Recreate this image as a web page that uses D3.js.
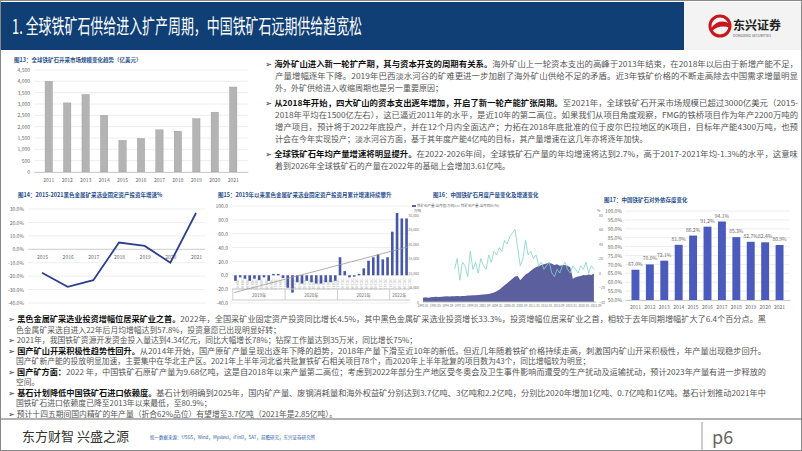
<!DOCTYPE html><html><head><meta charset="utf-8"><script src="https://cdn.jsdelivr.net/npm/d3@7"></script>
<style>body{margin:0;background:#fff}svg{display:block}text{font-family:"Noto Sans CJK SC","Noto Sans",sans-serif}</style></head><body>
<script>
const years13=["2011","2012","2013","2014","2015","2016","2017","2018","2019","2020","2021"];
const market13=[4000,3050,3420,2500,1400,1480,1860,1800,2350,2640,3750];
const years14=["2015","2016","2017","2018","2019","2020","2021"];
const growth14=[-17.5,-28,-23,5,2.5,-10,27];
const groups15=["2019年","2020年","2021年","2022年"];
const counts15=[11,11,11,4];
const vals15=[-8,-3,-5,-8,-5,-7,-3,-8,2,2,-4, -18,-25,-10,-12,-8,-10,-12,-12,-10,-10,-8, 26,6,-3,-2,2,10,21,26,30,23,26, 63,90,82,82];
const trend15=[-25,41];
const area16=[1500,1600,1500,1600,1700,1800,1700,1800,1900,2000,1900,2000,
2000,2100,2000,2100,2100,2200,2200,2300,2300,2400,2500,2600,2700,2800,
3000,3300,3700,4200,5000,5800,6500,7200,8000,8800,9000,7500,
8500,9500,10000,10800,11500,12000,12300,12800,13000,13300,13500,13200,12800,13000,12500,12700,
12800,12500,12000,8000,8500,8800,9000,9300,9200,9500,9300,9800];
const growth16=[5,20,-10,15,10,-5,30,5,15,0,20,10,5,25,15,30,25,35,30,45,40,50,55,60,35,10,20,45,25,30,20,25,10,15,5,10,15,0,-5,5,0,10,15,5,0,10,5,0,10,5,15,0,10,5];
const ticks16x=["1990-01","1992-05","1994-09","1997-01","1999-05","2001-09","2004-01","2006-05","2008-09","2011-01","2013-05","2015-09","2018-01","2020-05","2022-09"];
const years17=["2011","2012","2013","2014","2015","2016","2017","2018","2019","2020","2021"];
const dep17=[67.0,70.0,72.1,81.0,86.2,91.2,94.1,85.3,82.7,82.4,80.9];

const topText=[
 [["海外矿山进入新一轮扩产期，其与资本开支的周期有关系。","海外矿山上一轮资本支出的高峰于2013年结束，在2018年以后由于新增产能不足，"],["","产量增幅逐年下降。2019年巴西淡水河谷的矿难更进一步加剧了海外矿山供给不足的矛盾。近3年铁矿价格的不断走高除去中国需求增量明显"],["","外，外矿供给进入收缩周期也是另一重要原因；"]],
 [["从2018年开始，四大矿山的资本支出逐年增加，开启了新一轮产能扩张周期。","至2021年，全球铁矿石开采市场规模已超过3000亿美元（2015-"],["","2018年平均在1500亿左右），这已逼近2011年的水平，是近10年的第二高位。如果我们从项目角度观察，FMG的铁桥项目作为年产2200万吨的"],["","增产项目，预计将于2022年底投产，并在12个月内全面达产；力拓在2018年底批准的位于皮尔巴拉地区的K项目，目标年产能4300万吨，也预"],["","计会在今年实现投产；淡水河谷方面，基于其年度产能4亿吨的目标，其产量增速在这几年亦将逐年加快。"]],
 [["全球铁矿石年均产量增速将明显提升。","在2022-2026年间，全球铁矿石产量的年均增速将达到2.7%，高于2017-2021年均-1.3%的水平，这意味"],["","着到2026年全球铁矿石的产量在2022年的基础上会增加3.61亿吨。"]]
];
const botText=[
 [true,"黑色金属矿采选业投资增幅位居采矿业之首。","2022年，全国采矿业固定资产投资同比增长4.5%，其中黑色金属矿采选业投资增长33.3%，投资增幅位居采矿业之首，相较于去年同期增幅扩大了6.4个百分点。黑",1],
 [false,"","色金属矿采选自进入22年后月均增幅达到57.8%，投资意愿已出现明显好转；",0],
 [true,"","2021年，我国铁矿资源开发资金投入量达到4.34亿元，同比大幅增长78%；钻探工作量达到35万米，同比增长75%；",0],
 [true,"国产矿山开采积极性趋势性回升。","从2014年开始，国产原矿产量呈现出逐年下降的趋势，2018年产量下滑至近10年的新低。但近几年随着铁矿价格持续走高，刺激国内矿山开采积极性，年产量出现稳步回升。",1],
 [false,"","国产矿新产能的投放明显加速，主要集中在华北主产区。2021年上半年河北省共批复铁矿石相关项目78个，而2020年上半年批复的项目数为43个，同比增幅较为明显；",0],
 [true,"国产矿方面：","2022 年，中国铁矿石原矿产量为9.68亿吨，这是自2018年以来产量第二高位；考虑到2022年部分生产地区受冬奥会及卫生事件影响而遭受的生产扰动及运输扰动，预计2023年产量有进一步释放的",1],
 [false,"","空间。",0],
 [true,"基石计划降低中国铁矿石进口依赖度。","基石计划明确到2025年，国内矿产量、废钢消耗量和海外权益矿分别达到3.7亿吨、3亿吨和2.2亿吨，分别比2020年增加1亿吨、0.7亿吨和1亿吨。基石计划推动2021年中",1],
 [false,"","国铁矿石进口依赖度已降至2013年以来最低，至80.9%；",0],
 [true,"","预计十四五期间国内精矿的年产量（折合62%品位）有望增至3.7亿吨（2021年是2.85亿吨）。",0]
];

const W=802,H=451;
const svg=d3.select("body").append("svg").attr("width",W).attr("height",H);
svg.append("rect").attr("x",0.5).attr("y",0.5).attr("width",W-1).attr("height",H-1).attr("fill","none").attr("stroke","#888");
svg.append("rect").attr("x",1).attr("y",2).attr("width",683).attr("height",48).attr("fill","#0f3f74");
svg.append("rect").attr("x",684).attr("y",2).attr("width",117).attr("height",48).attr("fill","#f3f3f3");
svg.append("text").attr("x",12).attr("y",34).attr("fill","#fff").attr("font-size",20).attr("textLength",350).attr("lengthAdjust","spacingAndGlyphs").text("1. 全球铁矿石供给进入扩产周期，中国铁矿石远期供给趋宽松");
svg.append("circle").attr("cx",720).attr("cy",26).attr("r",10).attr("fill","none").attr("stroke","#c8161d").attr("stroke-width",3);
svg.append("path").attr("d","M712,27 Q720,18 730,24 L730,28 Q720,24 712,31 Z").attr("fill","#c8161d");
svg.append("text").attr("x",733).attr("y",30).attr("font-size",12).attr("font-weight","bold").attr("fill","#222").text("东兴证券");
svg.append("text").attr("x",733).attr("y",37).attr("font-size",3.5).attr("fill","#555").text("DONGXING SECURITIES");

const figTitle=(x,y,t)=>svg.append("text").attr("x",x).attr("y",y).attr("font-size",5.5).attr("font-weight","bold").attr("fill","#1f4e8c").text(t);
const axisTxt=(g)=>g.selectAll("text").attr("font-size",5).attr("fill","#666");

figTitle(14,62,"图13：全球铁矿石开采市场规模变化趋势（亿美元）");
{
 const x=d3.scaleBand().domain(years13).range([34,248]).padding(0.6);
 const y=d3.scaleLinear().domain([0,4500]).range([172,70]);
 svg.append("g").selectAll("line").data(y.ticks(9)).join("line").attr("x1",34).attr("x2",248).attr("y1",d=>y(d)).attr("y2",d=>y(d)).attr("stroke","#eee");
 svg.append("g").selectAll("rect").data(market13).join("rect").attr("x",(d,i)=>x(years13[i])).attr("width",x.bandwidth()).attr("y",d=>y(d)).attr("height",d=>172-y(d)).attr("fill","#b4b4b4").attr("stroke","#999").attr("stroke-width",0.4);
 const ga=svg.append("g").attr("transform","translate(34,0)").call(d3.axisLeft(y).ticks(9).tickSize(0).tickPadding(4));ga.select(".domain").remove();axisTxt(ga);
 const gb=svg.append("g").attr("transform","translate(0,172)").call(d3.axisBottom(x).tickSize(0).tickPadding(6));gb.select(".domain").attr("stroke","#ccc");axisTxt(gb);
}
{
 let yy=67;
 topText.forEach(par=>{
  par.forEach((ln,i)=>{
   const t=svg.append("text").attr("x",i?275:265).attr("y",yy).attr("font-size",8);
   if(i===0){t.append("tspan").attr("fill","#333").text("➢ ");}
   if(ln[0])t.append("tspan").attr("font-weight","bold").attr("fill","#111").text(ln[0]);
   t.append("tspan").attr("fill","#555").text(ln[1]);
   if(i<par.length-1 || par.length===1) t.attr("textLength",i?523:533).attr("lengthAdjust","spacingAndGlyphs");
   yy+=12;
  });
  yy+=3;
 });
}
figTitle(18,197,"图14：2015-2021黑色金属矿采选业固定资产投资年增速%");
{
 const x=d3.scalePoint().domain(years14).range([42,196]).padding(0);
 const y=d3.scaleLinear().domain([-40,30]).range([303,209]);
 const ticks=d3.range(-40,31,10);
 svg.append("g").selectAll("line").data(ticks).join("line").attr("x1",28).attr("x2",205).attr("y1",d=>y(d)).attr("y2",d=>y(d)).attr("stroke",d=>d===0?"#ccc":"#eee");
 const ga=svg.append("g").attr("transform","translate(26,0)").call(d3.axisLeft(y).tickValues(ticks).tickFormat(d=>d.toFixed(1)+"%").tickSize(0).tickPadding(2));ga.select(".domain").remove();axisTxt(ga);
 const gb=svg.append("g").attr("transform",`translate(0,${y(0)})`).call(d3.axisBottom(x).tickSize(0).tickPadding(6));gb.select(".domain").remove();axisTxt(gb);
 svg.append("path").datum(growth14).attr("d",d3.line().x((d,i)=>x(years14[i])).y(d=>y(d))).attr("fill","none").attr("stroke","#2e3f8f").attr("stroke-width",1.8);
}
figTitle(218,197,"图15：2019年以来黑色金属矿采选业固定资产投资月累计增速持续攀升");
{
 const idx=d3.range(vals15.length);
 const x=d3.scaleBand().domain(idx).range([232,410]).padding(0.45);
 const y=d3.scaleLinear().domain([-40,100]).range([303,206]);
 const ticks=d3.range(-40,101,20);
 svg.append("g").selectAll("line").data(ticks).join("line").attr("x1",232).attr("x2",410).attr("y1",d=>y(d)).attr("y2",d=>y(d)).attr("stroke","#eee");
 const ga=svg.append("g").attr("transform","translate(230,0)").call(d3.axisLeft(y).tickValues(ticks).tickFormat(d=>d.toFixed(1)).tickSize(0).tickPadding(2));ga.select(".domain").remove();axisTxt(ga);
 svg.append("g").selectAll("rect").data(vals15).join("rect").attr("x",(d,i)=>x(i)).attr("width",x.bandwidth()).attr("y",d=>y(Math.max(0,d))).attr("height",d=>Math.abs(y(d)-y(0))).attr("fill","#4656a8");
 let k=0;const months=[];
 counts15.forEach((c,g)=>{for(let m=0;m<c;m++){months.push({i:k,t:(2019+g)+"-"+String(m+2).padStart(2,"0")});k++;}});
 svg.append("g").selectAll("text").data(months).join("text").attr("transform",d=>`translate(${x(d.i)+x.bandwidth()/2+1},${y(0)+3}) rotate(90)`).attr("font-size",3).attr("fill","#888").text(d=>d.t);
 let s=0;
 counts15.forEach((c,g)=>{
  const x0=x(s)-x.bandwidth()*0.5, x1=x(s+c-1)+x.bandwidth()*1.5;
  svg.append("line").attr("x1",x0).attr("x2",x0).attr("y1",289).attr("y2",300).attr("stroke","#ccc");
  svg.append("text").attr("x",(x0+x1)/2).attr("y",297).attr("text-anchor","middle").attr("font-size",4.5).attr("fill","#666").text(groups15[g]);
  s+=c;
 });
 svg.append("line").attr("x1",232).attr("x2",410).attr("y1",289).attr("y2",289).attr("stroke","#ccc");
 svg.append("line").attr("x1",232).attr("x2",410).attr("y1",300).attr("y2",300).attr("stroke","#ccc");
 svg.append("line").attr("x1",x(0)).attr("x2",x(vals15.length-1)+x.bandwidth()).attr("y1",y(trend15[0])).attr("y2",y(trend15[1])).attr("stroke","#999").attr("stroke-width",0.8);
}
figTitle(433,197,"图16：中国铁矿石月度产量变化及增速变化");
{
 const x=d3.scaleLinear().domain([1990,2022.9]).range([423,596]);
 const yL=d3.scaleLinear().domain([0,30000]).range([302,215]);
 const yR=d3.scaleLinear().domain([-40,80]).range([302,215]);
 svg.append("rect").attr("x",412).attr("y",205).attr("width",4).attr("height",2).attr("fill","#5b5f9e");
 svg.append("text").attr("x",417).attr("y",207).attr("font-size",3.5).attr("fill","#666").text("铁矿石产量:当月值(万吨)");
 svg.append("line").attr("x1",455).attr("x2",460).attr("y1",206).attr("y2",206).attr("stroke","#7fd4c8");
 svg.append("text").attr("x",461).attr("y",207).attr("font-size",3.5).attr("fill","#666").text("铁矿石产量:当月同比(%)");
 svg.append("text").attr("x",414).attr("y",212).attr("font-size",3.5).attr("fill","#666").text("万吨");
 svg.append("text").attr("x",597).attr("y",212).attr("font-size",3.5).attr("fill","#666").text("%");
 const gl=svg.append("g").attr("transform","translate(421,0)").call(d3.axisLeft(yL).ticks(6).tickSize(0).tickPadding(2));gl.select(".domain").remove();gl.selectAll("text").attr("font-size",3.5).attr("fill","#777");
 const gr=svg.append("g").attr("transform","translate(597,0)").call(d3.axisRight(yR).ticks(6).tickSize(0).tickPadding(2));gr.select(".domain").remove();gr.selectAll("text").attr("font-size",3.5).attr("fill","#777");
 svg.append("path").datum(area16).attr("d",d3.area().x((d,i)=>x(1990+i*0.5)).y0(302).y1(d=>yL(d))).attr("fill","#5b5f9e");
 svg.append("path").datum(growth16).attr("d",d3.line().x((d,i)=>x(1996+i*0.5)).y(d=>yR(d))).attr("fill","none").attr("stroke","#7fd4c8").attr("stroke-width",0.8);
 svg.append("line").attr("x1",423).attr("x2",596).attr("y1",302).attr("y2",302).attr("stroke","#bbb");
 svg.append("g").selectAll("text").data(ticks16x).join("text").attr("x",(d,i)=>423+i*173/(ticks16x.length-1)).attr("y",307).attr("text-anchor","middle").attr("font-size",3).attr("fill","#777").text(d=>d);
}
figTitle(604,202,"图17：中国铁矿石对外依存度变化");
{
 const x=d3.scaleBand().domain(years17).range([625,790]).padding(0.45);
 const y=d3.scaleLinear().domain([50,100]).range([300,211]);
 const ticks=d3.range(50,101,5);
 svg.append("g").selectAll("line").data(ticks).join("line").attr("x1",625).attr("x2",790).attr("y1",d=>y(d)).attr("y2",d=>y(d)).attr("stroke","#eee");
 const ga=svg.append("g").attr("transform","translate(624,0)").call(d3.axisLeft(y).tickValues(ticks).tickFormat(d=>d.toFixed(1)+"%").tickSize(0).tickPadding(2));ga.select(".domain").remove();axisTxt(ga);
 svg.append("g").selectAll("rect").data(dep17).join("rect").attr("x",(d,i)=>x(years17[i])).attr("width",x.bandwidth()).attr("y",d=>y(d)).attr("height",d=>300-y(d)).attr("fill","#4a5bbd");
 svg.append("g").selectAll("text").data(dep17).join("text").attr("x",(d,i)=>x(years17[i])+x.bandwidth()/2).attr("y",d=>y(d)-4).attr("text-anchor","middle").attr("font-size",5).attr("fill","#666").text(d=>d.toFixed(1)+"%");
 const gb=svg.append("g").attr("transform","translate(0,300)").call(d3.axisBottom(x).tickSize(0).tickPadding(5));gb.select(".domain").attr("stroke","#ccc");axisTxt(gb);
}
{
 let yy=322;
 botText.forEach(r=>{
  const t=svg.append("text").attr("x",r[0]?8:16).attr("y",yy).attr("font-size",7.8);
  if(r[0])t.append("tspan").attr("fill","#333").text("➢ ");
  if(r[1])t.append("tspan").attr("font-weight","bold").attr("fill","#111").text(r[1]);
  t.append("tspan").attr("fill","#555").text(r[2]);
  if(r[3])t.attr("textLength",758).attr("lengthAdjust","spacingAndGlyphs");
  yy+=10.5;
 });
}
svg.append("line").attr("x1",1).attr("x2",801).attr("y1",419).attr("y2",419).attr("stroke","#999").attr("stroke-width",1.5);
svg.append("text").attr("x",22).attr("y",441).attr("font-size",13).attr("fill","#333").text("东方财智 兴盛之源");
svg.append("text").attr("x",150).attr("y",439).attr("font-size",4.5).attr("fill","#2a5aa8").text("统一数据来源：USGS，Wind，Mysteel，iFinD，SAT，前瞻研究，东兴证券研究所");
svg.append("line").attr("x1",702).attr("x2",702).attr("y1",422).attr("y2",451).attr("stroke","#999");
svg.append("text").attr("x",712).attr("y",444).attr("font-size",18).attr("fill","#666").text("p6");
</script></body></html>
